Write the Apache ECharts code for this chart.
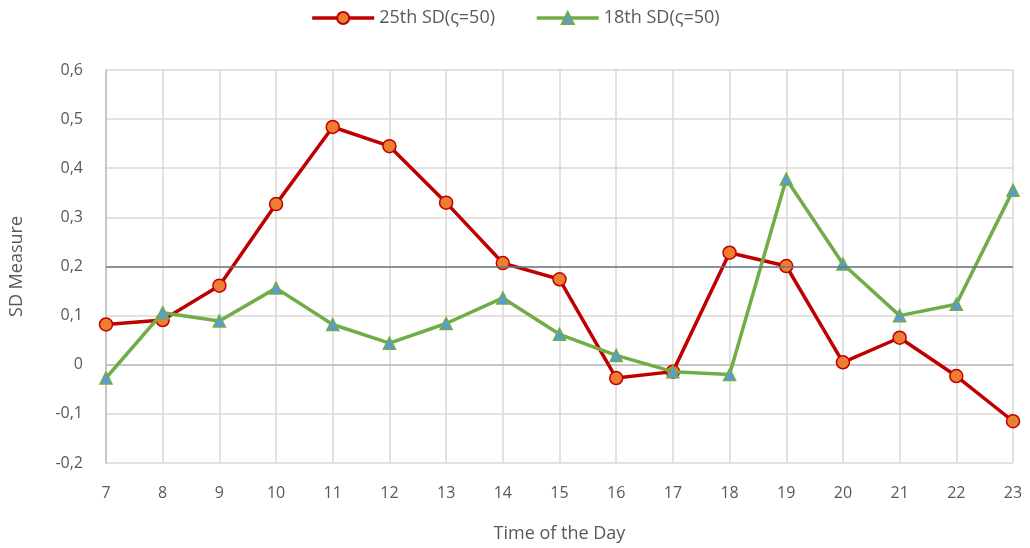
<!DOCTYPE html>
<html>
<head>
<meta charset="utf-8">
<title>SD Measure</title>
<script src="https://cdn.jsdelivr.net/npm/echarts@6/dist/echarts.min.js"></script>
<style>
  html, body { margin: 0; padding: 0; background: #fff; }
  #main { width: 1030px; height: 548px; }
</style>
</head>
<body>
<div id="main"></div>
<script>
    // hours of the day
    var hours = ['7', '8', '9', '10', '11', '12', '13', '14', '15', '16', '17', '18', '19', '20', '21', '22', '23'];
    var sd25 = [0.082, 0.091, 0.161, 0.327, 0.484, 0.445, 0.330, 0.207, 0.174, -0.027, -0.014, 0.228, 0.201, 0.005, 0.055, -0.023, -0.115];
    var sd18 = [-0.027, 0.106, 0.089, 0.156, 0.082, 0.044, 0.084, 0.136, 0.062, 0.019, -0.014, -0.020, 0.378, 0.205, 0.100, 0.123, 0.355];
    var threshold = 0.2;

    var txt = '#595959';
    var myChart = echarts.init(document.getElementById('main'));

    var option = {
        animation: false,
        textStyle: { fontFamily: 'Open Sans' },
        legend: {
            top: 4,
            left: 'center',
            itemGap: 40,
            itemWidth: 62,
            itemHeight: 15,
            lineStyle: { width: 3.5 },
            textStyle: { color: txt, fontSize: 18 },
            data: ['25th SD(ς=50)', '18th SD(ς=50)']
        },
        grid: { left: 103, right: 17, top: 70, bottom: 85 },
        xAxis: {
            type: 'category',
            data: hours,
            boundaryGap: false,
            name: 'Time of the Day',
            nameLocation: 'middle',
            nameGap: 62,
            nameTextStyle: { color: txt, fontSize: 18 },
            axisLine: { lineStyle: { color: '#bfbfbf', width: 1.5 } },
            axisTick: { show: false },
            axisLabel: { color: txt, fontSize: 16, margin: 22 },
            splitLine: { show: true, lineStyle: { color: '#d9d9d9', width: 1.5 } }
        },
        yAxis: {
            type: 'value',
            min: -0.2,
            max: 0.6,
            interval: 0.1,
            name: 'SD Measure',
            nameLocation: 'middle',
            nameGap: 80,
            nameTextStyle: { color: txt, fontSize: 18 },
            axisLine: { show: true, lineStyle: { color: '#bfbfbf', width: 1.5 } },
            axisTick: { show: false },
            axisLabel: {
                color: txt, fontSize: 16, margin: 23,
                formatter: function (v) {
                    var s = Math.round(v * 10) / 10;
                    return String(s).replace('.', ',');
                }
            },
            splitLine: { lineStyle: { color: '#d9d9d9', width: 1.5 } }
        },
        series: [
            {
                name: '25th SD(ς=50)',
                type: 'line',
                data: sd25,
                symbol: 'circle',
                symbolSize: 13,
                z: 3,
                lineStyle: { color: '#c00000', width: 3.5 },
                itemStyle: { color: '#ed7d31', borderColor: '#c00000', borderWidth: 1.5 },
                markLine: {
                    silent: true,
                    symbol: 'none',
                    label: { show: false },
                    lineStyle: { color: '#6b7587', width: 1.5, type: 'solid' },
                    data: [{ yAxis: threshold }]
                }
            },
            {
                name: '18th SD(ς=50)',
                type: 'line',
                data: sd18,
                symbol: 'triangle',
                symbolSize: 12,
                z: 4,
                lineStyle: { color: '#70ad47', width: 3.5 },
                itemStyle: { color: '#5b9bd5', borderColor: '#70ad47', borderWidth: 1.5 }
            }
        ]
    };
    myChart.setOption(option);
</script>
</body>
</html>
